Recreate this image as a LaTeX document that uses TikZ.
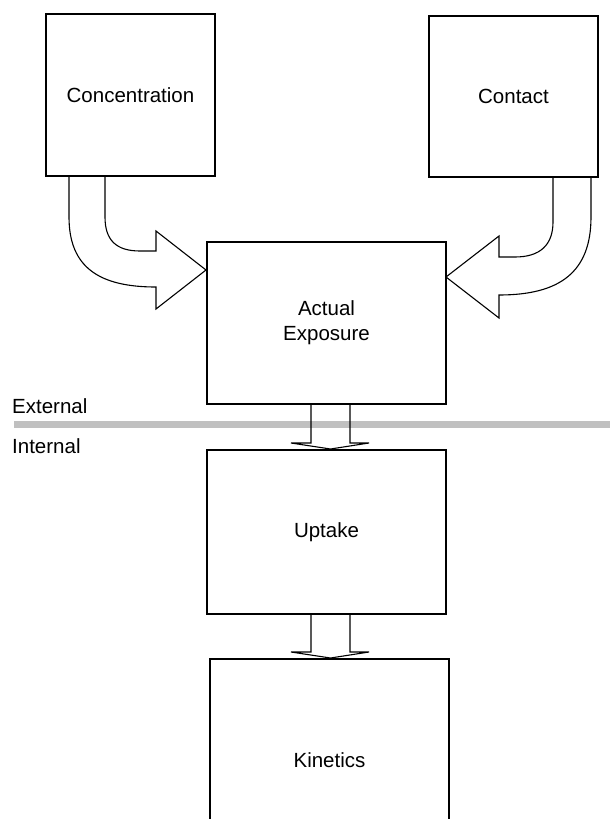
\documentclass[tikz,border=0pt]{standalone}
\usepackage{fontspec}
\setmainfont{Liberation Sans}
\definecolor{bargray}{RGB}{192,192,192}
\tikzset{
  block/.style={rectangle, draw, line width=1.1pt, inner sep=0pt, outer sep=0pt, align=center},
  flow/.style={line width=1.1pt, line join=miter},
  side/.style={anchor=base west, inner sep=0pt}
}
\begin{document}
\begin{tikzpicture}[x=1pt, y=-1pt, font=\fontsize{20.5}{25}\selectfont]
        \clip (0, 0) rectangle (610, 819);

        % Band between outside and inside
        \fill[bargray] (14, 421) rectangle (610, 428);
        \node (ext) [side] at (12, 413) {External};
        \node (int) [side] at (12, 453) {Internal};

        % Nodes
        \node (conc) [block, minimum width=169pt, minimum height=162pt] at (130.5, 95) {Concentration};
        \node (cont) [block, minimum width=169pt, minimum height=161pt] at (513.5, 96.5) {Contact};
        \node (expo) [block, minimum width=239pt, minimum height=162pt] at (326.5, 323) {Actual\\Exposure};
        \node (upt) [block, minimum width=239pt, minimum height=164pt] at (326.5, 532) {Uptake};
        \node (kin) [block, minimum width=239pt, minimum height=202pt] at (329.5, 760) {Kinetics};

        % Edges
        \draw[flow] (69, 176) -- (69, 217) .. controls (69, 268) and (100, 287) .. (156, 287)
          -- (156, 309) -- (206, 270) -- (156, 231) -- (156, 251) -- (140, 251)
          .. controls (116, 251) and (105, 240) .. (105, 217) -- (105, 176);
        \draw[flow] (591, 177) -- (591, 217) .. controls (591, 272) and (560, 295) .. (499, 295)
          -- (499, 318) -- (446, 277) -- (499, 236) -- (499, 257) -- (515, 257)
          .. controls (540, 257) and (553, 245) .. (553, 222) -- (553, 177);
        \draw[flow] (311, 404) -- (311, 443) -- (291, 443) -- (330.5, 449)
          -- (369, 443) -- (350, 443) -- (350, 404);
        \draw[flow] (311, 614) -- (311, 652) -- (291, 652) -- (330.5, 658)
          -- (369, 652) -- (350, 652) -- (350, 614);

\end{tikzpicture}
\end{document}
